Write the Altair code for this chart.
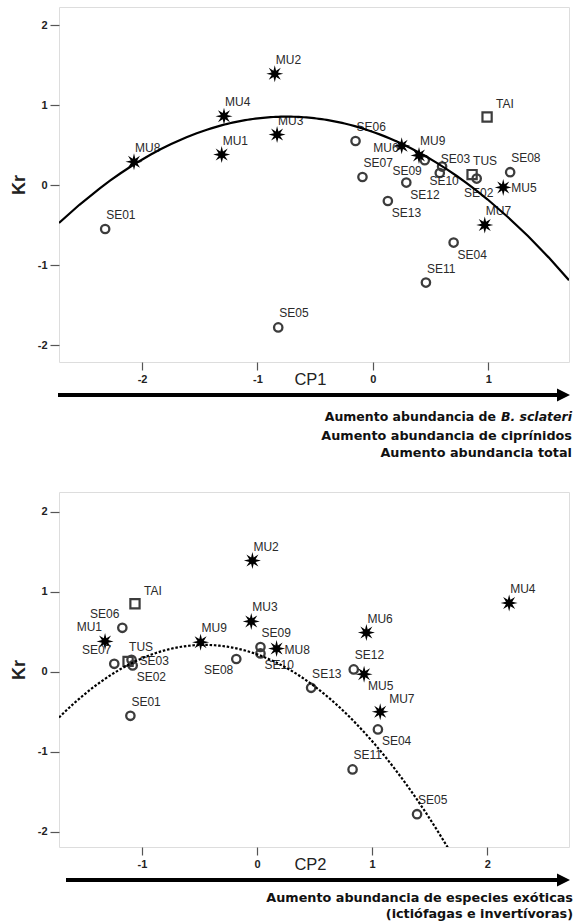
import math
import altair as alt
import pandas as pd

# ---------------- data ----------------
sites = ["MU1", "MU2", "MU3", "MU4", "MU5", "MU6", "MU7", "MU8", "MU9",
         "SE01", "SE02", "SE03", "SE04", "SE05", "SE06", "SE07", "SE08", "SE09",
         "SE10", "SE11", "SE12", "SE13", "TUS", "TAI"]
groups = ["MU"] * 9 + ["SE"] * 13 + ["REF", "REF"]
kr = [0.38, 1.39, 0.63, 0.86, -0.03, 0.49, -0.50, 0.29, 0.37,
      -0.55, 0.08, 0.15, -0.72, -1.78, 0.55, 0.10, 0.16, 0.31,
      0.23, -1.22, 0.03, -0.20, 0.13, 0.85]
cp1 = [-1.31, -0.85, -0.83, -1.29, 1.13, 0.25, 0.97, -2.07, 0.40,
       -2.32, 0.90, 0.58, 0.70, -0.82, -0.15, -0.09, 1.19, 0.45,
       0.60, 0.46, 0.29, 0.13, 0.86, 0.99]
cp2 = [-1.32, -0.04, -0.05, 2.19, 0.93, 0.95, 1.07, 0.17, -0.49,
       -1.10, -1.08, -1.09, 1.05, 1.39, -1.17, -1.24, -0.18, 0.03,
       0.03, 0.83, 0.84, 0.47, -1.12, -1.06]

# label placement (style) for each site, per panel
anchors_top = ["ne", "ne", "ne", "ne", "e", "w", "ne", "ne", "ne",
               "ne", "s", "ne", "se", "ne", "ne", "ne", "ne", "sw",
               "s", "ne", "se", "se", "ne", "nee"]
anchors_bottom = ["nw", "ne", "ne", "ne", "se", "ne", "nee", "e", "ne",
                  "ne", "se", "e", "se", "ne", "nw", "nw", "sw", "ne",
                  "se", "ne", "ne", "ne", "ne", "nee"]

kr_ticks = [-2, -1, 0, 1, 2]
cp1_ticks = [-2, -1, 0, 1]
cp2_ticks = [-1, 0, 1, 2]

# ---------------- styles ----------------
LABEL_STYLE = {
    "ne": dict(align="left", dx=1, dy=-14),
    "nee": dict(align="left", dx=9, dy=-13),
    "nw": dict(align="right", dx=-3, dy=-14),
    "e": dict(align="left", dx=8, dy=1),
    "w": dict(align="right", dx=-3, dy=2),
    "se": dict(align="left", dx=4, dy=12),
    "s": dict(align="center", dx=2, dy=14),
    "sw": dict(align="right", dx=-3, dy=11),
}

pts = []
for k in range(16):
    ang = math.pi / 8 * k - math.pi / 2
    r = 1.0 if k % 2 == 0 else 0.40
    pts.append(f"{r * math.cos(ang):.3f},{r * math.sin(ang):.3f}")
STAR = "M" + "L".join(pts) + "Z"
ARROW_HEAD = "M-1,-1L1,0L-1,1Z"

W, H = 510, 355
LABEL_FONT = "Liberation Sans"
NOTE_FONT = "DejaVu Sans"


def panel(cp, xname, xdomain, ydomain, xticks, fit_group, dash, anchors,
          arrow_x0, notes):
    df = pd.DataFrame({"site": sites, "cp": cp, "kr": kr, "grp": groups,
                       "anchor": anchors})
    base = alt.Chart(df)
    x = alt.X("cp:Q",
              scale=alt.Scale(domain=xdomain, nice=False, zero=False),
              axis=alt.Axis(values=xticks, title=xname, grid=False, domain=False,
                            tickSize=8, tickColor="#555", tickWidth=1.2,
                            labelFont=LABEL_FONT, labelFontWeight="bold",
                            labelFontSize=11, labelColor="#222", labelPadding=3,
                            labelExpr="'' + datum.value",
                            titleFont=LABEL_FONT, titleFontSize=16.5,
                            titleFontWeight="normal", titleColor="#222",
                            titleX=251, titleY=22, titleBaseline="alphabetic"))
    y = alt.Y("kr:Q",
              scale=alt.Scale(domain=ydomain, nice=False, zero=False),
              axis=alt.Axis(values=kr_ticks, title="Kr", grid=False, domain=False,
                            tickSize=9, tickColor="#555", tickWidth=1.2,
                            labelFont=LABEL_FONT, labelFontWeight="bold",
                            labelFontSize=11, labelColor="#222", labelPadding=3,
                            labelExpr="'' + datum.value",
                            titleFont=LABEL_FONT, titleFontSize=18,
                            titleFontWeight="bold", titleColor="#222",
                            titleX=-35, titleY=H / 2, titleBaseline="alphabetic"))

    circles = base.transform_filter(alt.datum.grp == "SE").mark_point(
        shape="circle", filled=False, stroke="#3c3c3c", strokeWidth=2.3,
        size=70, opacity=1).encode(x=x, y=y)
    squares = base.transform_filter(alt.datum.grp == "REF").mark_point(
        shape="square", filled=False, stroke="#3c3c3c", strokeWidth=2.2,
        size=85, opacity=1).encode(x="cp:Q", y="kr:Q")
    stars = base.transform_filter(alt.datum.grp == "MU").mark_point(
        shape=STAR, filled=True, color="black", size=290, opacity=1,
        strokeWidth=0).encode(x="cp:Q", y="kr:Q")

    labels = []
    for key, st in LABEL_STYLE.items():
        labels.append(
            base.transform_filter(alt.datum.anchor == key).mark_text(
                font=LABEL_FONT, fontSize=12, color="#2a2a2a",
                baseline="middle", **st).encode(x="cp:Q", y="kr:Q", text="site:N"))

    fit = base.transform_filter(alt.datum.grp == fit_group).transform_regression(
        "cp", "kr", method="poly", order=2, extent=xdomain).mark_line(
        clip=True, color="black", strokeWidth=2.2,
        **({"strokeDash": dash} if dash else {})).encode(x="cp:Q", y="kr:Q")

    one = alt.Chart(pd.DataFrame({"v": [0]}))
    ay = H + 33
    arrow = one.mark_rule(color="black", strokeWidth=4).encode(
        x=alt.value(arrow_x0), x2=alt.value(W - 10), y=alt.value(ay))
    head = one.mark_point(shape=ARROW_HEAD, filled=True, color="black",
                          size=170, opacity=1, strokeWidth=0).encode(
        x=alt.value(W - 5.5), y=alt.value(ay))

    note_layers = []
    for (txt, xr, yy, style, fs) in notes:
        note_layers.append(one.mark_text(
            text=txt, font=NOTE_FONT, fontSize=fs, fontWeight="bold",
            fontStyle=style, color="#111", align="right",
            baseline="middle").encode(x=alt.value(xr), y=alt.value(yy)))

    return alt.layer(circles, squares, stars, *labels, fit, arrow, head,
                     *note_layers).properties(width=W, height=H)


top = panel(cp1, "CP1", [-2.72, 1.70], [-2.2125, 2.225], cp1_ticks, "MU", None,
            anchors_top, -1,
            [("Aumento abundancia de", 437, H + 55, "normal", 12.5),
             ("B. sclateri", 513, H + 55, "italic", 12.5),
             ("Aumento abundancia de ciprínidos", 513, H + 74, "normal", 12.8),
             ("Aumento abundancia total", 513, H + 91, "normal", 12.8)])

bottom = panel(cp2, "CP2", [-1.72, 2.71], [-2.19, 2.2475], cp2_ticks, "SE", [2.5, 1.8],
               anchors_bottom, 7,
               [("Aumento abundancia de especies exóticas", 514, H + 51, "normal", 12.8),
                ("(ictiófagas e invertívoras)", 514, H + 67, "normal", 12.8)])

chart = alt.vconcat(top, bottom, spacing=30).properties(
    padding={"left": 9, "top": 6, "right": 0, "bottom": 0}
).configure_view(stroke="#555", strokeWidth=1.5).configure(background="white")

chart.save("out.html", embed_options={"renderer": "svg", "actions": False})
